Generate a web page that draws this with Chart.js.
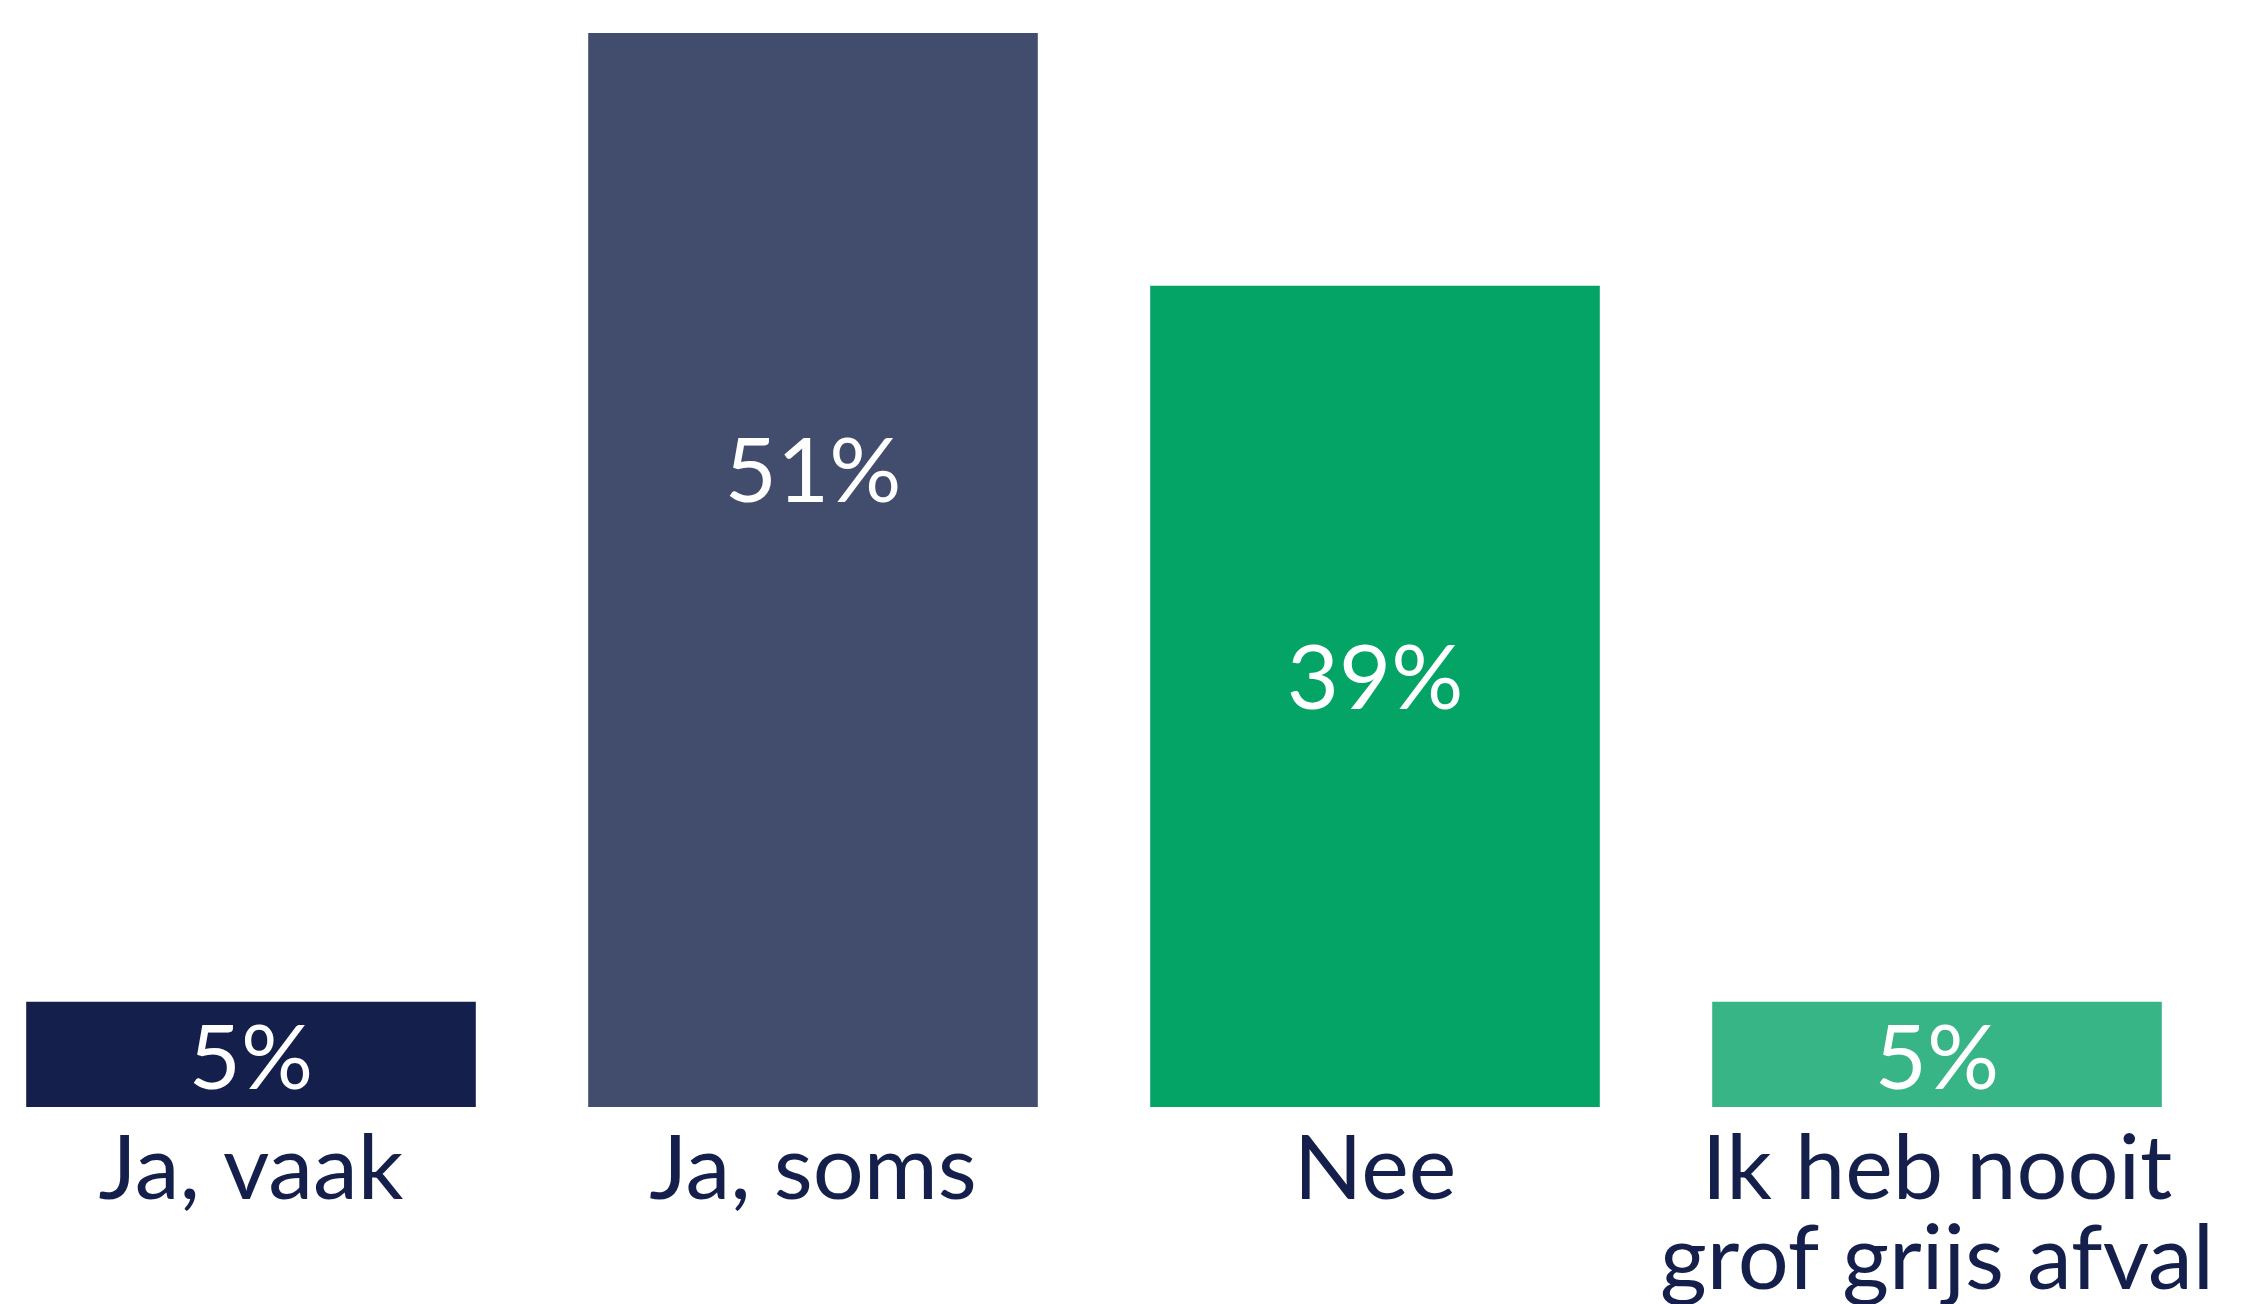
<!DOCTYPE html>
<html>
<head>
<meta charset="utf-8">
<script src="https://cdn.jsdelivr.net/npm/chart.js@4"></script>
<style>
  html, body { margin: 0; padding: 0; background: #ffffff; overflow: hidden; }
  #wrap { position: absolute; left: -30px; top: 0; width: 2248px; height: 1304px; }
</style>
</head>
<body>
<div id="wrap"><canvas id="chart"></canvas></div>
<script>
const categories = ["Ja, vaak", "Ja, soms", "Nee", ["Ik heb nooit", "grof grijs afval"]];
const values = [5, 51, 39, 5];
const valueLabels = ["5%", "51%", "39%", "5%"];

const barColors = ["#14204b", "#424d6e", "#04a466", "#37b586"];
const textColor = "#14204b";
// where the value label sits, as a share of the bar height
const labelAnchor = [0.45, 0.59, 0.52, 0.45];

const valueLabelPlugin = {
  id: "valueLabels",
  afterDatasetsDraw(chart) {
    const ctx = chart.ctx;
    const meta = chart.getDatasetMeta(0);
    ctx.save();
    ctx.fillStyle = "#ffffff";
    ctx.font = "90px Lato";
    ctx.textAlign = "center";
    ctx.textBaseline = "middle";
    meta.data.forEach((bar, i) => {
      const y = bar.base + (bar.y - bar.base) * labelAnchor[i];
      ctx.fillText(valueLabels[i], bar.x, y);
    });
    ctx.restore();
  },
};

new Chart(document.getElementById("chart"), {
  type: "bar",
  data: {
    labels: categories,
    datasets: [
      {
        data: values,
        backgroundColor: barColors,
        borderWidth: 0,
        barPercentage: 1,
        categoryPercentage: 0.8,
      },
    ],
  },
  options: {
    responsive: true,
    maintainAspectRatio: false,
    animation: false,
    layout: { padding: { top: 33, left: 0, right: 0, bottom: 0 } },
    plugins: {
      legend: { display: false },
      tooltip: { enabled: false },
    },
    scales: {
      x: {
        grid: { display: false, drawTicks: false },
        border: { display: false },
        ticks: {
          color: textColor,
          font: { family: "Lato", size: 90, lineHeight: 1 },
          padding: 18,
          maxRotation: 0,
          autoSkip: false,
        },
        afterFit(scale) {
          // keep the full width for the bars, the labels may overhang
          scale.height = 197;
          scale.paddingLeft = 0;
          scale.paddingRight = 0;
        },
      },
      y: {
        display: false,
        min: 0,
        max: 51,
      },
    },
  },
  plugins: [valueLabelPlugin],
});
</script>
</body>
</html>
